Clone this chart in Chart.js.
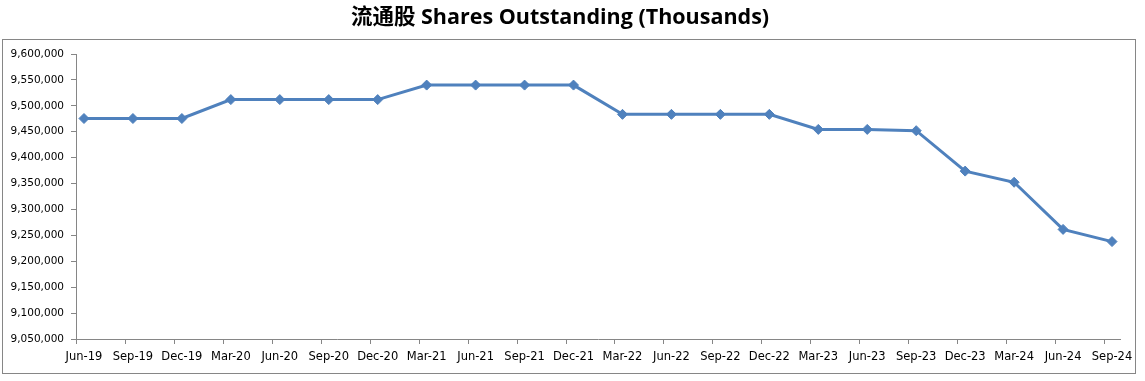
<!DOCTYPE html>
<html>
<head>
<meta charset="utf-8">
<script src="https://cdn.jsdelivr.net/npm/chart.js@4/dist/chart.umd.min.js"></script>
<style>
html,body{margin:0;padding:0;background:#fff;}
#wrap{width:1145px;height:381px;position:relative;}
</style>
</head>
<body>
<div id="wrap"><canvas id="c" width="1145" height="381"></canvas></div>
<script>
const titleText = '流通股 Shares Outstanding (Thousands)';
const categories = ['Jun-19','Sep-19','Dec-19','Mar-20','Jun-20','Sep-20','Dec-20','Mar-21','Jun-21','Sep-21','Dec-21','Mar-22','Jun-22','Sep-22','Dec-22','Mar-23','Jun-23','Sep-23','Dec-23','Mar-24','Jun-24','Sep-24'];
const sharesOutstanding = [9475500,9475500,9475500,9512000,9512000,9512000,9512000,9540000,9540000,9540000,9540000,9483500,9483500,9483500,9483500,9454500,9454500,9452000,9374000,9352500,9261500,9238000];
const yMin = 9050000, yMax = 9600000, yStep = 50000;

const AXIS = '#868686';
const pointShift = 0.163;

const borderPlugin = {
  id: 'outerBorder',
  beforeDraw(chart) {
    const ctx = chart.ctx;
    ctx.save();
    ctx.fillStyle = '#fff';
    ctx.fillRect(0, 0, chart.width, chart.height);
    ctx.strokeStyle = AXIS;
    ctx.lineWidth = 1;
    ctx.strokeRect(2.5, 39.5, 1133, 334);
    ctx.restore();
  },
  afterDraw(chart) {
    const xs = chart.scales.x;
    const ctx = chart.ctx;
    const y0 = chart.chartArea.bottom;
    ctx.save();
    ctx.strokeStyle = AXIS;
    ctx.lineWidth = 1;
    ctx.beginPath();
    for (let i = 0; i < categories.length; i++) {
      const px = Math.round(xs.getPixelForValue(i - pointShift)) + 0.5;
      ctx.moveTo(px, y0);
      ctx.lineTo(px, y0 + 5);
    }
    ctx.stroke();
    ctx.restore();
  }
};

new Chart(document.getElementById('c'), {
  type: 'line',
  data: {
    datasets: [{
      data: sharesOutstanding.map((v, i) => ({x: i, y: v})),
      borderColor: '#4F81BD',
      backgroundColor: '#4F81BD',
      borderWidth: 3,
      pointStyle: 'rectRot',
      pointRadius: 5,
      pointBorderWidth: 1,
      tension: 0
    }]
  },
  plugins: [borderPlugin],
  options: {
    responsive: false,
    animation: false,
    layout: { padding: { left: 0, right: 25, top: 0, bottom: 0 } },
    plugins: {
      legend: { display: false },
      tooltip: { enabled: false },
      title: {
        display: true,
        text: titleText,
        color: '#000',
        font: { family: "'Open Sans','Noto Sans CJK SC',sans-serif", size: 21.5, weight: 'bold', lineHeight: 1.2 },
        padding: { top: 5, bottom: 23.2 }
      }
    },
    scales: {
      x: {
        type: 'linear',
        min: -pointShift,
        max: categories.length - 1 + pointShift,
        grid: { display: false, drawTicks: false },
        border: { display: true, color: AXIS, width: 1 },
        afterFit(s) { s.height = 42; },
        ticks: {
          stepSize: 1,
          includeBounds: false,
          autoSkip: false,
          maxRotation: 0,
          padding: 11,
          color: '#000',
          font: { family: "'DejaVu Sans'", size: 11.5 },
          callback: (v) => Number.isInteger(v) ? categories[v] : ''
        }
      },
      y: {
        min: yMin,
        max: yMax,
        grid: { display: true, drawOnChartArea: false, drawTicks: true, tickLength: 5, color: AXIS },
        border: { display: true, color: AXIS, width: 1 },
        afterFit(s) { s.width = 76; },
        ticks: {
          stepSize: yStep,
          padding: 7,
          color: '#000',
          font: { family: "'DejaVu Sans'", size: 10.5 },
          callback: (v) => v.toLocaleString('en-US')
        }
      }
    }
  }
});
</script>
</body>
</html>
